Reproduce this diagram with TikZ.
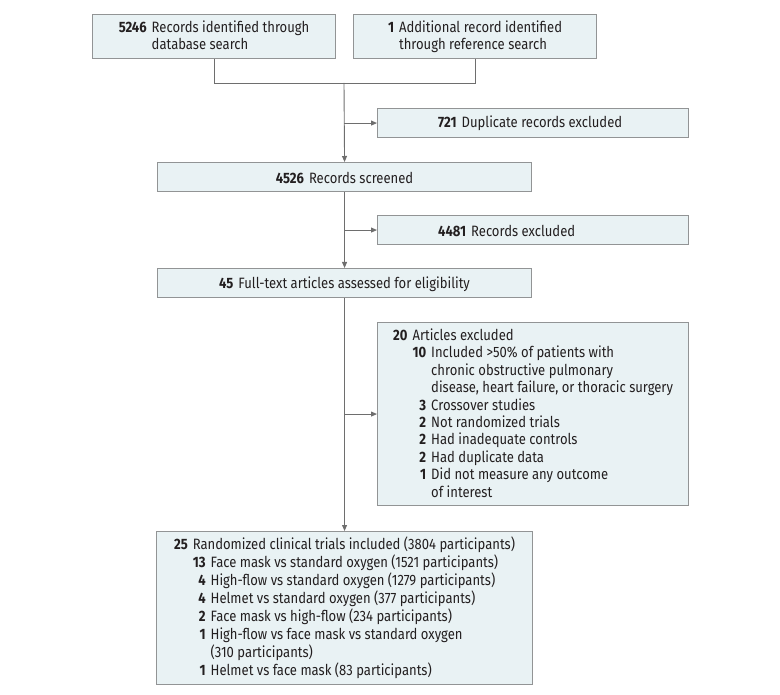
\documentclass[tikz,border=0pt]{standalone}
\usepackage{fontspec}
\setmainfont{Fira Sans}[FakeStretch=0.87]
\usetikzlibrary{arrows.meta}
\definecolor{boxfill}{HTML}{E9F2F4}
\definecolor{boxline}{HTML}{929495}
\definecolor{conn}{HTML}{6E6E6E}
\definecolor{txt}{HTML}{231F20}
\begin{document}
\begin{tikzpicture}[x=1pt,y=-1pt,
  font=\fontsize{15}{17}\selectfont, text=txt,
  box/.style={draw=boxline, fill=boxfill, line width=1.1pt, inner sep=0pt, anchor=north west},
  lbl/.style={inner sep=0pt, align=left, yshift=-1.2pt},
  conn/.style={draw=conn, line width=0.9pt},
  arr/.style={conn, -{Triangle[length=6pt,width=5pt]}}]
\useasboundingbox (0,0) rectangle (780,695);
\newcommand{\rw}[2]{\textbf{#1}\hspace{5pt}#2}
% boxes
\node[box, minimum width=243pt, minimum height=44pt] (A) at (92,14) {};
\node[box, minimum width=243pt, minimum height=44pt] (B) at (353,14) {};
\node[box, minimum width=311pt, minimum height=29pt] (D) at (377,108) {};
\node[box, minimum width=374pt, minimum height=29pt] (S) at (157,162) {};
\node[box, minimum width=311pt, minimum height=29pt] (E) at (377,215) {};
\node[box, minimum width=374pt, minimum height=29pt] (F) at (157,268) {};
\node[box, minimum width=311pt, minimum height=183pt] (X) at (377,322) {};
\node[box, minimum width=376pt, minimum height=153pt] (R) at (156,531) {};
% texts
\node[lbl] (tA) at (A.center) {\begin{tabular}{@{}l@{\hspace{5pt}}l@{}}\textbf{5246} & Records identified through\\ & database search\end{tabular}};
\node[lbl] (tB) at (B.center) {\begin{tabular}{@{}l@{\hspace{5pt}}l@{}}\textbf{1} & Additional record identified\\ & through reference search\end{tabular}};
\node[lbl, anchor=west] (tD) at (438,122.5) {\rw{721}{Duplicate records excluded}};
\node[lbl] (tS) at (S.center) {\rw{4526}{Records screened}};
\node[lbl, anchor=west] (tE) at (438,229.5) {\rw{4481}{Records excluded}};
\node[lbl] (tF) at (F.center) {\rw{45}{Full-text articles assessed for eligibility}};
\node[lbl, font=\fontsize{15}{17.4}\selectfont] (tX) at (X.center) {\begin{tabular}{@{}l@{\hspace{5pt}}r@{\hspace{5pt}}l@{}}
\textbf{20} & \multicolumn{2}{@{}l@{}}{Articles excluded}\\
 & \textbf{10} & Included >50\% of patients with\\
 & & chronic obstructive pulmonary\\
 & & disease, heart failure, or thoracic surgery\\
 & \textbf{3} & Crossover studies\\
 & \textbf{2} & Not randomized trials\\
 & \textbf{2} & Had inadequate controls\\
 & \textbf{2} & Had duplicate data\\
 & \textbf{1} & Did not measure any outcome\\
 & & of interest
\end{tabular}};
\node[lbl, font=\fontsize{15}{17.9}\selectfont] (tR) at (R.center) {\begin{tabular}{@{}l@{\hspace{5pt}}r@{\hspace{5pt}}l@{}}
\textbf{25} & \multicolumn{2}{@{}l@{}}{Randomized clinical trials included (3804 participants)}\\
 & \textbf{13} & Face mask vs standard oxygen (1521 participants)\\
 & \textbf{4} & High-flow vs standard oxygen (1279 participants)\\
 & \textbf{4} & Helmet vs standard oxygen (377 participants)\\
 & \textbf{2} & Face mask vs high-flow (234 participants)\\
 & \textbf{1} & High-flow vs face mask vs standard oxygen\\
 & & (310 participants)\\
 & \textbf{1} & Helmet vs face mask (83 participants)
\end{tabular}};
% connectors
\coordinate (jn) at (344,83);
\draw[conn] (A.south) -- (A.south |- jn) -- (B.south |- jn) -- (B.south);
\draw[arr] (jn) -- (S.north);
\draw[arr] (jn |- D.west) -- (D.west);
\draw[arr] (S.south) -- (F.north);
\draw[arr] (S.south |- E.west) -- (E.west);
\draw[arr] (F.south) -- (R.north);
\draw[arr] (F.south |- X.west) -- (X.west);
\end{tikzpicture}
\end{document}
